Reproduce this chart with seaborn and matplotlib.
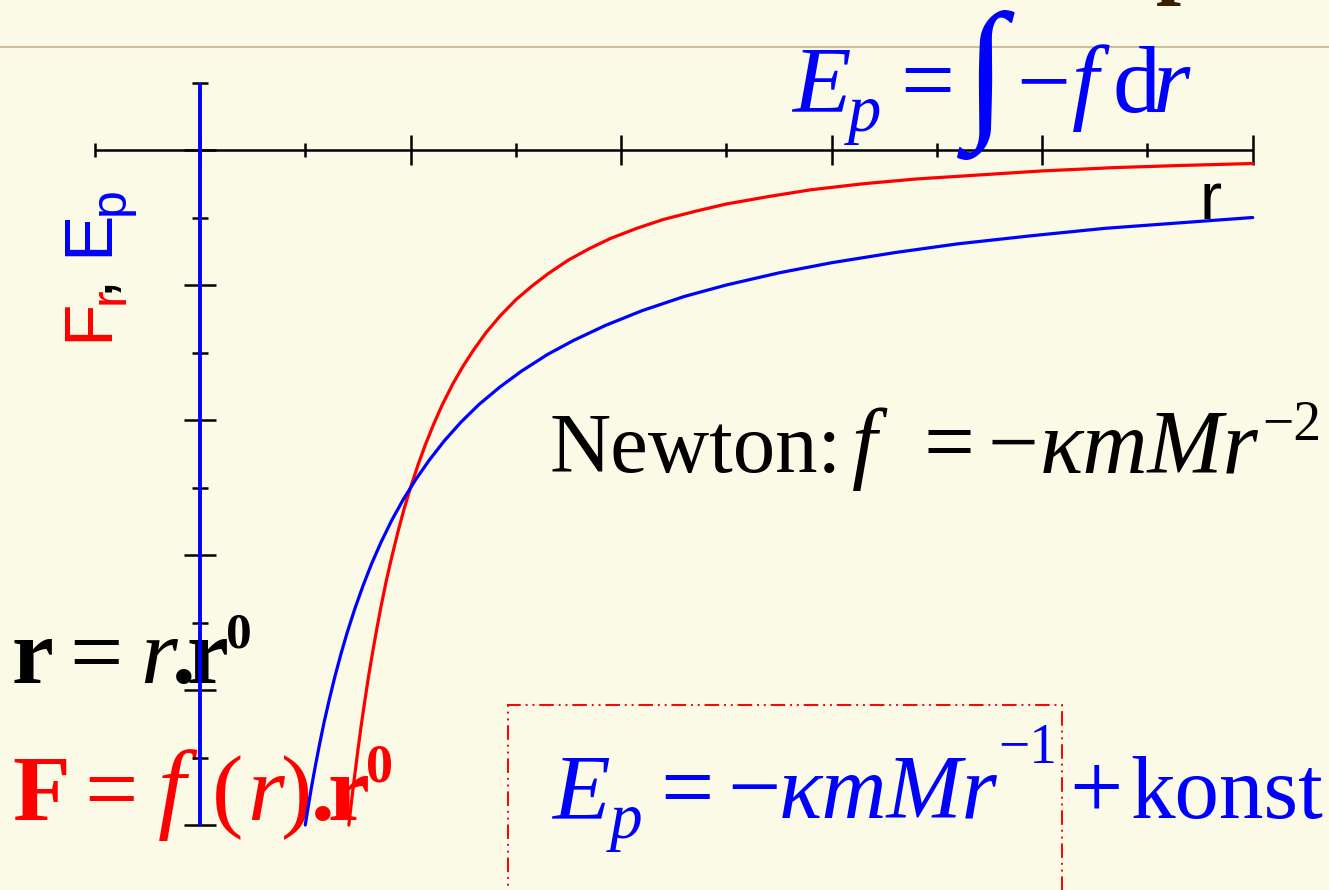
import matplotlib
matplotlib.use("Agg")
import matplotlib.pyplot as plt
import seaborn as sns
from matplotlib.patches import Rectangle

# ---------------- data ----------------
x_ticks = [-1, 0, 1, 2, 3, 4, 5, 6, 7, 8, 9, 10]
y_ticks = [1, 0, -1, -2, -3, -4, -5, -6, -7, -8, -9, -10]

r_force = [1.414, 1.43, 1.45, 1.47, 1.5, 1.53, 1.56, 1.6, 1.64, 1.68, 1.72, 1.77,
           1.82, 1.88, 1.94, 2.0, 2.07, 2.14, 2.22, 2.3, 2.4, 2.5, 2.6, 2.72, 2.85,
           3.0, 3.15, 3.3, 3.5, 3.7, 3.9, 4.15, 4.4, 4.7, 5.0, 5.4, 5.8, 6.3, 6.8,
           7.4, 8.0, 8.7, 9.3, 10.0]
force = [-10.00, -9.78, -9.51, -9.26, -8.89, -8.54, -8.22, -7.81, -7.44, -7.09,
         -6.76, -6.38, -6.04, -5.66, -5.31, -5.00, -4.67, -4.37, -4.06, -3.78,
         -3.47, -3.20, -2.96, -2.70, -2.46, -2.22, -2.02, -1.84, -1.63, -1.46,
         -1.31, -1.16, -1.03, -0.91, -0.80, -0.69, -0.59, -0.50, -0.43, -0.37,
         -0.31, -0.26, -0.23, -0.20]

r_energy = [1.0, 1.03, 1.06, 1.1, 1.14, 1.18, 1.23, 1.28, 1.34, 1.4, 1.47, 1.55,
            1.63, 1.72, 1.82, 1.93, 2.05, 2.18, 2.32, 2.48, 2.65, 2.85, 3.05, 3.3,
            3.55, 3.85, 4.2, 4.6, 5.0, 5.5, 6.0, 6.6, 7.2, 7.9, 8.6, 9.3, 10.0]
energy = [-10.00, -9.71, -9.43, -9.09, -8.77, -8.47, -8.13, -7.81, -7.46, -7.14,
          -6.80, -6.45, -6.13, -5.81, -5.49, -5.18, -4.88, -4.59, -4.31, -4.03,
          -3.77, -3.51, -3.28, -3.03, -2.82, -2.60, -2.38, -2.17, -2.00, -1.82,
          -1.67, -1.52, -1.39, -1.27, -1.16, -1.08, -1.00]

# ---------------- style ----------------
W, H = 1329, 890
BG = "#FAFAE6"
BLUE = "#0000FF"
RED = "#FF0000"
SERIF = ["Liberation Serif", "DejaVu Serif"]
SANS = ["Liberation Sans", "DejaVu Sans"]

sns.set_theme(style="white", rc={"axes.facecolor": BG, "figure.facecolor": BG})
plt.rcParams["font.family"] = SERIF

fig = plt.figure(figsize=(W / 100, H / 100), dpi=100)
ax = fig.add_axes([0, 0, 1, 1])
ax.set_facecolor(BG)
for s in ax.spines.values():
    s.set_visible(False)
ax.set_xticks([])
ax.set_yticks([])

# pixel -> data mapping: origin at (200,150), 105.27 px per r unit, 67.5 px per value unit
ax.set_xlim(-200 / 105.27, (W - 200) / 105.27)
ax.set_ylim((150 - H) / 67.5, 150 / 67.5)

# axes drawn like the slide
ax.plot([x_ticks[0], x_ticks[-1]], [0, 0], color="black", lw=1.8, zorder=2,
        solid_capstyle="butt")
for t in x_ticks:
    h = 0.222 if t % 2 == 0 else 0.111
    ax.vlines(t, -h, h, color="black", lw=1.8, zorder=2)
for t in y_ticks:
    h = 0.152 if t % 2 == 0 else 0.076
    ax.hlines(t, -h, h, color="black", lw=1.8, zorder=2)
ax.plot([0, 0], [y_ticks[0], y_ticks[-1]], color=BLUE, lw=2.8, zorder=3,
        solid_capstyle="butt")

sns.lineplot(x=r_force, y=force, color=RED, lw=2.3, ax=ax, estimator=None,
             sort=False, zorder=4, solid_joinstyle="round")
sns.lineplot(x=r_energy, y=energy, color=BLUE, lw=2.3, ax=ax, estimator=None,
             sort=False, zorder=4, solid_joinstyle="round")


def txt(x, y, s, size, color="black", style="normal", weight="normal",
        family=SERIF, z=1, rot=0):
    ax.text(x / W, 1 - y / H, s, transform=ax.transAxes, fontsize=size,
            color=color, fontstyle=style, fontweight=weight, family=family,
            ha="left", va="baseline", rotation=rot, rotation_mode="anchor",
            zorder=z, clip_on=False)


# header line and cut-off title letter
ax.plot([0, 1], [1 - 47 / H] * 2, transform=ax.transAxes, color="#CDBF9F",
        lw=1.5, zorder=1)
txt(1156, -13, "p", 65, "#3C1E00", weight="bold")

# top formula  E_p = ∫ -f dr
txt(792, 112, "E", 69, BLUE, "italic", z=5)
txt(848, 131, "p", 48, BLUE, "italic", z=5)
txt(900, 112, "=", 69, BLUE, z=5)
txt(965, 119, "\u222b", 110, BLUE, z=5)
txt(1016, 112, "\u2212", 69, BLUE, z=5)
txt(1072, 112, "f", 69, BLUE, "italic", z=5)
txt(1112, 112, "d", 69, BLUE, z=5)
txt(1152, 112, "r", 69, BLUE, "italic", z=5)

# r axis label
txt(1199, 219, "r", 48, "black", family=SANS)

# y label  F_r, E_p (rotated)
txt(107, 341, "F", 50, RED, family=SANS, rot=90)
txt(124, 304, "r", 36, RED, family=SANS, rot=90)
txt(107, 292, ",", 50, "black", family=SANS, rot=90)
txt(107, 256, "E", 50, BLUE, family=SANS, rot=90)
txt(124, 215, "p", 36, BLUE, family=SANS, rot=90)

# Newton
txt(550, 472, "Newton:", 61)
txt(852, 472, "f", 65, style="italic")
txt(924, 472, "=", 65)
txt(987, 472, "\u2212", 65)
txt(1040, 472, "\u03bamMr", 65, style="italic")
txt(1262, 440, "\u22122", 40)

# r = r.r0
txt(12, 683, "r", 68, weight="bold")
txt(69, 683, "=", 68)
txt(140, 683, "r", 68, style="italic")
txt(172, 683, ".", 68, weight="bold")
txt(187, 683, "r", 68, weight="bold")
txt(226, 647, "0", 37, weight="bold")

# F = f(r).r0
txt(12, 820, "F", 68, RED, weight="bold")
txt(84, 820, "=", 68, RED)
txt(158, 820, "f", 72, RED, "italic")
txt(212, 820, "(", 68, RED)
txt(247, 820, "r", 68, RED, "italic")
txt(281, 820, ")", 68, RED)
txt(311, 820, ".", 68, RED, weight="bold")
txt(327, 820, "r", 68, RED, weight="bold")
txt(366, 782, "0", 39, RED, weight="bold")

# E_p = -kmMr^-1 + konst
txt(552, 818, "E", 68, BLUE, "italic")
txt(610, 838, "p", 47, BLUE, "italic")
txt(660, 818, "=", 68, BLUE)
txt(727, 818, "\u2212", 68, BLUE)
txt(779, 818, "\u03bamMr", 65, BLUE, "italic")
txt(998, 763, "\u22121", 40, BLUE)
txt(1069, 818, "+", 68, BLUE)
txt(1130, 818, "konst", 64, BLUE)

# dash-dot-dot box
ax.add_patch(Rectangle((508 / W, 1 - 960 / H), (1062 - 508) / W, (960 - 705) / H,
                       transform=ax.transAxes, fill=False, edgecolor=RED, lw=1.4,
                       linestyle=(0, (7.5, 2.5, 1, 2.5, 1, 2.5)), zorder=1,
                       clip_on=False))

fig.savefig("out.png", dpi=100, facecolor=BG)
